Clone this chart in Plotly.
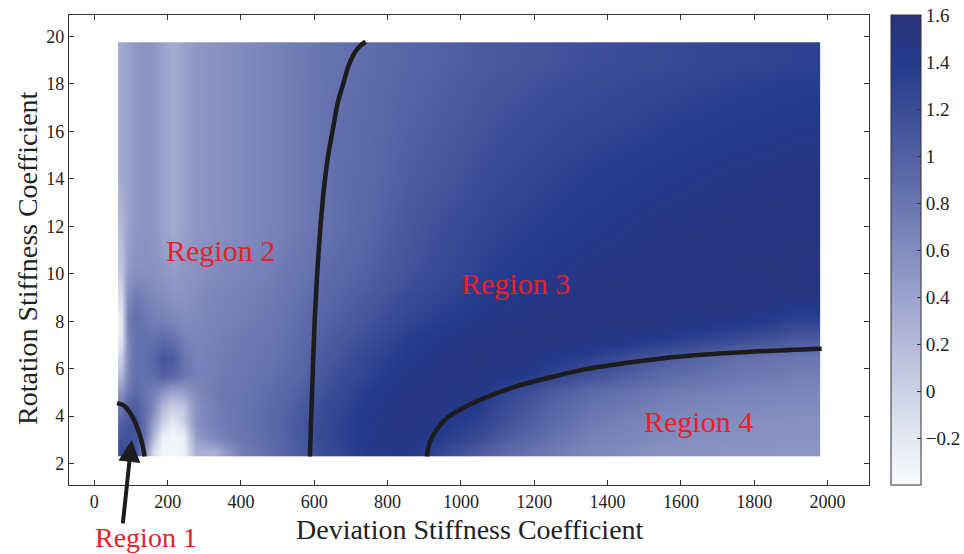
import plotly.graph_objects as go

# ---- data ----
# heatmap cell edges
x_edges = [65, 80, 100, 125, 150, 175, 200, 230, 260, 300, 360, 440, 520, 600,
           700, 800, 900, 1000, 1100, 1250, 1450, 1650, 1850, 1980]
y_edges = [2.3, 2.8, 3.4, 4.0, 4.7, 5.4, 6.1, 6.8, 7.6, 8.5, 9.5, 11, 13, 15.5, 18, 19.75]

# values at cell centres, rows bottom -> top
z_vals = [
    # y 2.55
    [1.20, 1.20, 1.10, 0.60, -0.10, -0.35, -0.35, -0.30, 0.30, 0.30, 0.72, 0.88, 1.05, 1.25, 1.42, 1.45, 1.25, 1.05, 0.85, 0.65, 0.56, 0.53, 0.52],
    # y 3.1
    [1.10, 1.15, 1.10, 0.80, 0.20, -0.30, -0.35, -0.30, 0.45, 0.65, 0.78, 0.90, 1.08, 1.28, 1.45, 1.50, 1.38, 1.20, 0.95, 0.70, 0.60, 0.56, 0.54],
    # y 3.7
    [1.00, 1.10, 1.10, 0.85, 0.40, 0.00, -0.25, 0.00, 0.55, 0.70, 0.80, 0.92, 1.08, 1.28, 1.45, 1.50, 1.42, 1.30, 1.05, 0.75, 0.62, 0.58, 0.56],
    # y 4.35
    [0.80, 1.00, 1.05, 0.85, 0.60, 0.20, 0.00, 0.10, 0.55, 0.72, 0.80, 0.90, 1.05, 1.25, 1.42, 1.50, 1.48, 1.38, 1.10, 0.82, 0.68, 0.62, 0.60],
    # y 5.05
    [0.50, 0.75, 0.90, 0.80, 0.70, 0.55, 0.40, 0.45, 0.62, 0.75, 0.80, 0.88, 1.00, 1.20, 1.38, 1.48, 1.50, 1.46, 1.20, 0.92, 0.76, 0.68, 0.65],
    # y 5.75
    [0.20, 0.65, 0.85, 0.85, 0.90, 1.00, 0.95, 0.80, 0.70, 0.72, 0.78, 0.85, 0.95, 1.15, 1.32, 1.45, 1.50, 1.50, 1.42, 1.15, 0.90, 0.78, 0.72],
    # y 6.45
    [0.00, 0.60, 0.85, 0.85, 0.95, 1.10, 1.05, 0.80, 0.68, 0.72, 0.77, 0.82, 0.92, 1.10, 1.27, 1.40, 1.48, 1.52, 1.50, 1.32, 1.05, 0.85, 0.78],
    # y 7.2
    [-0.20, 0.60, 0.85, 0.85, 0.85, 0.90, 0.85, 0.70, 0.65, 0.70, 0.75, 0.80, 0.90, 1.05, 1.20, 1.35, 1.45, 1.50, 1.53, 1.50, 1.38, 1.20, 1.05],
    # y 8.05
    [-0.25, 0.70, 0.85, 0.80, 0.70, 0.70, 0.65, 0.60, 0.62, 0.67, 0.72, 0.78, 0.88, 1.00, 1.13, 1.27, 1.37, 1.45, 1.50, 1.55, 1.52, 1.45, 1.30],
    # y 9.0
    [-0.10, 0.60, 0.75, 0.70, 0.62, 0.60, 0.55, 0.55, 0.60, 0.65, 0.70, 0.75, 0.85, 0.95, 1.07, 1.20, 1.30, 1.40, 1.46, 1.52, 1.56, 1.55, 1.50],
    # y 10.25
    [0.10, 0.45, 0.55, 0.55, 0.55, 0.50, 0.45, 0.50, 0.55, 0.60, 0.65, 0.72, 0.80, 0.90, 1.00, 1.12, 1.22, 1.32, 1.40, 1.48, 1.53, 1.56, 1.57],
    # y 12
    [0.20, 0.40, 0.50, 0.55, 0.50, 0.40, 0.32, 0.42, 0.50, 0.55, 0.60, 0.68, 0.75, 0.85, 0.95, 1.08, 1.18, 1.26, 1.34, 1.42, 1.49, 1.53, 1.55],
    # y 14.25
    [0.35, 0.40, 0.50, 0.55, 0.50, 0.40, 0.32, 0.42, 0.50, 0.55, 0.60, 0.68, 0.75, 0.85, 0.92, 1.02, 1.10, 1.18, 1.26, 1.35, 1.42, 1.47, 1.50],
    # y 16.75
    [0.35, 0.40, 0.50, 0.55, 0.50, 0.40, 0.32, 0.42, 0.50, 0.55, 0.60, 0.68, 0.75, 0.85, 0.90, 0.98, 1.04, 1.11, 1.18, 1.25, 1.32, 1.38, 1.42],
    # y 18.9
    [0.35, 0.40, 0.50, 0.55, 0.50, 0.40, 0.32, 0.42, 0.50, 0.55, 0.60, 0.68, 0.75, 0.83, 0.88, 0.95, 1.00, 1.05, 1.10, 1.17, 1.22, 1.28, 1.32],
]

# boundary curves
curve1_x = [62, 80, 97, 110, 120, 128, 134, 137]
curve1_y = [4.55, 4.45, 4.15, 3.8, 3.4, 3.0, 2.6, 2.3]
curve2_x = [588, 594, 601, 608, 617, 627, 638, 652, 664, 679, 692, 706, 722, 740]
curve2_y = [2.3, 5.0, 8.0, 10.0, 12.0, 13.7, 15.0, 16.2, 17.2, 18.0, 18.7, 19.2, 19.55, 19.78]
curve3_x = [907, 915, 934, 960, 997, 1070, 1152, 1240, 1334, 1470, 1606, 1800, 1984]
curve3_y = [2.3, 2.9, 3.43, 3.9, 4.27, 4.8, 5.26, 5.62, 5.96, 6.28, 6.52, 6.72, 6.84]

region_labels = ["Region 1", "Region 2", "Region 3", "Region 4"]
# label centres in pixels of the 964x554 picture
label_px = [146, 220, 515, 698]
label_py = [537, 250, 283, 421]
label_size = [28, 30, 30, 30]

x_ticks = list(range(0, 2001, 200))
y_ticks = list(range(2, 21, 2))
cb_ticks = [-0.2, 0, 0.2, 0.4, 0.6, 0.8, 1.0, 1.2, 1.4, 1.6]
cb_text = ["\u22120.2", "0", "0.2", "0.4", "0.6", "0.8", "1", "1.2", "1.4", "1.6"]

FONT = "Liberation Serif"
RED = "#e8202a"
INK = "#1c1c1c"

colorscale = [
    [0.0, "rgb(250,251,253)"],
    [0.1, "rgb(228,231,242)"],
    [0.2, "rgb(205,209,230)"],
    [0.3, "rgb(180,186,217)"],
    [0.4, "rgb(155,163,204)"],
    [0.5, "rgb(130,140,190)"],
    [0.6, "rgb(105,117,176)"],
    [0.7, "rgb(82,96,163)"],
    [0.8, "rgb(58,76,150)"],
    [0.9, "rgb(36,58,140)"],
    [1.0, "rgb(42,50,122)"],
]

L, R, T, B = 69, 95, 15, 69
W, H = 964, 554
pw, ph = W - L - R, H - T - B


def px2paper(px, py):
    return (px - L) / pw, 1 - (py - T) / ph


fig = go.Figure()
fig.add_trace(go.Heatmap(
    x=x_edges, y=y_edges, z=z_vals, zsmooth="best",
    colorscale=colorscale, zmin=-0.4, zmax=1.6,
    colorbar=dict(
        x=1.0275, xanchor="left", xpad=0, y=0.5, yanchor="middle", ypad=0,
        len=1, lenmode="fraction", thickness=30, thicknessmode="pixels",
        outlinecolor="#333", outlinewidth=1,
        tickvals=cb_ticks, ticktext=cb_text, ticks="inside", ticklen=4,
        tickcolor="#333",
        tickfont=dict(family=FONT, size=19, color="#222"),
    ),
    hoverinfo="skip",
))

for cx, cy in [(curve1_x, curve1_y), (curve2_x, curve2_y), (curve3_x, curve3_y)]:
    fig.add_trace(go.Scatter(x=cx, y=cy, mode="lines",
                             line=dict(color=INK, width=4.5, shape="spline", smoothing=0.8),
                             showlegend=False, hoverinfo="skip"))

annotations = []
for t, lx, ly, sz in zip(region_labels, label_px, label_py, label_size):
    ax_, ay_ = px2paper(lx, ly)
    annotations.append(dict(x=ax_, y=ay_, xref="paper", yref="paper", text=t, showarrow=False,
                            xanchor="center", yanchor="middle",
                            font=dict(family=FONT, size=sz, color=RED)))
# arrow pointing at Region 1
annotations.append(dict(x=102, y=3.0, xref="x", yref="y", text="", showarrow=True,
                        ax=-9, ay=85, arrowhead=2, arrowsize=1.1, arrowwidth=4,
                        arrowcolor=INK))
tx, ty = px2paper(470, 529)
annotations.append(dict(x=tx, y=ty, xref="paper", yref="paper", text="Deviation Stiffness Coefficient",
                        xanchor="center", yanchor="middle",
                        showarrow=False, font=dict(family=FONT, size=28, color="#222")))
tx, ty = px2paper(27, 258)
annotations.append(dict(x=tx, y=ty, xref="paper", yref="paper", text="Rotation Stiffness Coefficient",
                        xanchor="center", yanchor="middle",
                        textangle=-90, showarrow=False, font=dict(family=FONT, size=28, color="#222")))

axis_common = dict(showline=True, linecolor="#333", linewidth=1.3, mirror="ticks",
                   ticks="inside", ticklen=5, tickcolor="#333", showgrid=False,
                   zeroline=False, tickfont=dict(family=FONT, size=18, color="#222"))

fig.update_layout(
    width=W, height=H, margin=dict(l=L, r=R, t=T, b=B, autoexpand=False),
    paper_bgcolor="white", plot_bgcolor="white",
    xaxis=dict(range=[-69, 2113], tickvals=x_ticks, **axis_common),
    yaxis=dict(range=[1.1, 20.9], tickvals=y_ticks, **axis_common),
    annotations=annotations,
    showlegend=False,
)

fig.write_html("out.html")
